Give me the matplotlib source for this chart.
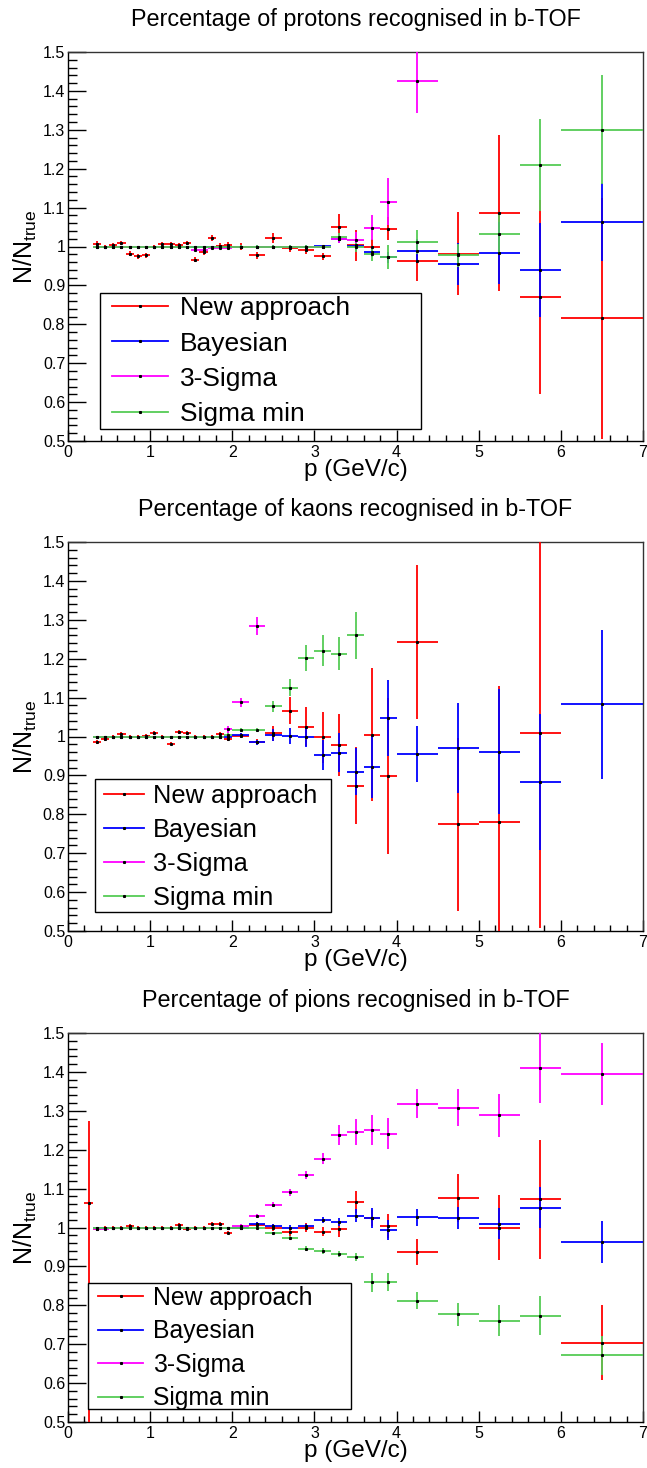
import numpy as np
import matplotlib
matplotlib.use("Agg")
import matplotlib.pyplot as plt
from matplotlib.lines import Line2D
from matplotlib.patches import Rectangle
from matplotlib.ticker import MultipleLocator, FuncFormatter

plt.rcParams['font.family'] = ['Liberation Sans', 'DejaVu Sans']
plt.rcParams['mathtext.fontset'] = 'custom'
plt.rcParams['mathtext.rm'] = 'Liberation Sans'

nan = np.nan

# momentum binning (GeV/c)
p_edges = [0.2, 0.3, 0.4, 0.5, 0.6, 0.7, 0.8, 0.9, 1.0, 1.1, 1.2, 1.3, 1.4, 1.5, 1.6, 1.7, 1.8, 1.9, 2.0,
           2.2, 2.4, 2.6, 2.8, 3.0, 3.2, 3.4, 3.6, 3.8, 4.0,
           4.5, 5.0, 5.5, 6.0, 7.0]

method_labels = ["New approach", "Bayesian", "3-Sigma", "Sigma min"]
method_colors = ["#ff0000", "#0000ff", "#ff00ff", "#55cc55"]

# ---------------- protons ----------------
proton_new = [nan, 1.007, 1.000, 1.004, 1.009, 0.982, 0.975, 0.977, 1.000, 1.006, 1.006, 1.003, 1.009, 0.966, 0.986, 1.022, 1.001, 1.004,
              1.000, 0.977, 1.022, 0.995, 0.990, 0.975, 1.051, 1.003, 0.998, 1.046,
              0.962, 0.982, 1.086, 0.870, 0.815]
proton_new_err = [nan, 0.006, 0.005, 0.006, 0.006, 0.006, 0.006, 0.006, 0.005, 0.006, 0.006, 0.006, 0.006, 0.007, 0.007, 0.007, 0.007, 0.007,
                  0.008, 0.009, 0.012, 0.010, 0.010, 0.009, 0.033, 0.040, 0.020, 0.030,
                  0.050, 0.107, 0.200, 0.250, 0.310]
proton_bayes = [nan, 1.000, 1.000, 1.000, 1.000, 1.000, 1.000, 1.000, 1.000, 1.000, 1.000, 1.000, 1.000, 1.000, 1.000, 1.000, 1.000, 1.000,
                1.000, 1.000, 1.000, 1.000, 1.000, 1.001, 1.018, 1.002, 0.986, 0.972,
                0.988, 0.955, 0.984, 0.940, 1.062]
proton_bayes_err = [nan, 0.002, 0.002, 0.002, 0.002, 0.002, 0.002, 0.002, 0.002, 0.002, 0.002, 0.002, 0.002, 0.002, 0.002, 0.002, 0.002, 0.002,
                    0.003, 0.003, 0.003, 0.003, 0.004, 0.004, 0.010, 0.012, 0.012, 0.015,
                    0.030, 0.054, 0.080, 0.120, 0.100]
proton_3sig = [nan, 1.000, 0.998, 0.998, 0.998, 0.998, 0.998, 0.998, 0.998, 0.998, 0.998, 0.998, 0.998, 0.992, 0.991, 0.995, 0.995, 0.996,
               1.000, 0.998, 0.998, 0.998, 0.998, 1.000, 1.020, 1.017, 1.048, 1.115,
               1.426, nan, nan, nan, nan]
proton_3sig_err = [nan, 0.002, 0.002, 0.002, 0.002, 0.002, 0.002, 0.002, 0.002, 0.002, 0.002, 0.002, 0.002, 0.002, 0.002, 0.002, 0.002, 0.002,
                   0.003, 0.003, 0.003, 0.003, 0.003, 0.003, 0.010, 0.020, 0.032, 0.060,
                   0.083, nan, nan, nan, nan]
proton_smin = [nan, 1.000, 1.000, 1.000, 1.000, 1.000, 1.000, 1.000, 1.000, 1.000, 1.000, 1.000, 1.000, 1.000, 1.000, 1.000, 1.000, 1.000,
               1.000, 1.000, 1.000, 1.000, 1.000, 1.000, 1.024, 0.998, 0.982, 0.973,
               1.012, 0.977, 1.033, 1.210, 1.300]
proton_smin_err = [nan, 0.002, 0.002, 0.002, 0.002, 0.002, 0.002, 0.002, 0.002, 0.002, 0.002, 0.002, 0.002, 0.002, 0.002, 0.002, 0.002, 0.002,
                   0.003, 0.003, 0.003, 0.003, 0.003, 0.003, 0.010, 0.012, 0.020, 0.030,
                   0.030, 0.030, 0.050, 0.118, 0.140]

# ---------------- kaons ----------------
kaon_new = [nan, 0.985, 0.994, 1.000, 1.006, 1.000, 1.000, 1.001, 1.009, 1.000, 0.982, 1.012, 1.009, 1.000, 1.000, 1.000, 1.006, 0.993,
            1.002, 0.987, 1.008, 1.066, 1.025, 0.998, 0.979, 0.874, 1.005, 0.898,
            1.244, 0.774, 0.781, 1.008, nan]
kaon_new_err = [nan, 0.005, 0.005, 0.005, 0.005, 0.005, 0.005, 0.005, 0.005, 0.005, 0.005, 0.005, 0.005, 0.005, 0.005, 0.005, 0.005, 0.005,
                0.006, 0.007, 0.020, 0.035, 0.050, 0.065, 0.080, 0.100, 0.170, 0.200,
                0.198, 0.222, 0.350, 0.500, nan]
kaon_bayes = [nan, 1.000, 1.000, 1.000, 1.000, 1.000, 1.000, 1.000, 1.000, 1.000, 1.000, 1.000, 1.000, 1.000, 1.000, 1.000, 1.000, 1.000,
              1.004, 0.985, 1.004, 1.002, 1.000, 0.953, 0.958, 0.910, 0.922, 1.048,
              0.955, 0.971, 0.961, 0.884, 1.083]
kaon_bayes_err = [nan, 0.002, 0.002, 0.002, 0.002, 0.002, 0.002, 0.002, 0.002, 0.002, 0.002, 0.002, 0.002, 0.002, 0.002, 0.002, 0.002, 0.002,
                  0.004, 0.007, 0.015, 0.020, 0.027, 0.038, 0.050, 0.060, 0.080, 0.097,
                  0.073, 0.115, 0.160, 0.175, 0.192]
kaon_3sig = [nan, 0.998, 0.998, 0.998, 0.998, 0.998, 0.998, 0.998, 0.998, 0.998, 0.998, 0.998, 0.998, 0.998, 0.998, 0.998, 0.998, 1.019,
             1.088, 1.284, nan, nan, nan, nan, nan, nan, nan, nan,
             nan, nan, nan, nan, nan]
kaon_3sig_err = [nan, 0.002, 0.002, 0.002, 0.002, 0.002, 0.002, 0.002, 0.002, 0.002, 0.002, 0.002, 0.002, 0.002, 0.002, 0.002, 0.002, 0.009,
                 0.012, 0.024, nan, nan, nan, nan, nan, nan, nan, nan,
                 nan, nan, nan, nan, nan]
kaon_smin = [nan, 1.000, 1.000, 1.000, 1.000, 1.000, 1.000, 1.000, 1.000, 1.000, 1.000, 1.000, 1.000, 1.000, 1.000, 1.000, 1.000, 1.004,
             1.017, 1.017, 1.078, 1.125, 1.202, 1.221, 1.213, 1.260, nan, nan,
             nan, nan, nan, nan, nan]
kaon_smin_err = [nan, 0.002, 0.002, 0.002, 0.002, 0.002, 0.002, 0.002, 0.002, 0.002, 0.002, 0.002, 0.002, 0.002, 0.002, 0.002, 0.002, 0.004,
                 0.005, 0.006, 0.014, 0.022, 0.034, 0.040, 0.043, 0.060, nan, nan,
                 nan, nan, nan, nan, nan]

# ---------------- pions ----------------
pion_new = [1.062, 0.996, 1.000, 1.000, 1.000, 1.004, 1.000, 1.000, 1.000, 1.000, 1.000, 1.007, 0.997, 1.000, 1.000, 1.010, 1.010, 0.987,
            1.000, 1.007, 1.000, 0.989, 1.000, 0.989, 0.996, 1.066, 1.024, 1.004,
            0.937, 1.075, 1.000, 1.072, 0.704]
pion_new_err_up = [0.212, 0.004, 0.004, 0.004, 0.004, 0.004, 0.004, 0.004, 0.004, 0.004, 0.004, 0.004, 0.004, 0.004, 0.004, 0.004, 0.004, 0.004,
                   0.005, 0.006, 0.008, 0.010, 0.012, 0.012, 0.020, 0.028, 0.020, 0.030,
                   0.033, 0.062, 0.083, 0.154, 0.096]
pion_new_err_down = [0.600, 0.004, 0.004, 0.004, 0.004, 0.004, 0.004, 0.004, 0.004, 0.004, 0.004, 0.004, 0.004, 0.004, 0.004, 0.004, 0.004, 0.004,
                     0.005, 0.006, 0.008, 0.010, 0.012, 0.012, 0.020, 0.028, 0.020, 0.030,
                     0.033, 0.062, 0.083, 0.154, 0.096]
pion_bayes = [nan, 1.000, 1.000, 1.000, 1.000, 1.000, 1.000, 1.000, 1.000, 1.000, 1.000, 1.000, 1.000, 1.000, 1.000, 1.000, 1.000, 1.000,
              1.000, 1.009, 1.004, 1.000, 1.003, 1.019, 1.014, 1.030, 1.025, 0.993,
              1.026, 1.024, 1.010, 1.051, 0.963]
pion_bayes_err = [nan, 0.002, 0.002, 0.002, 0.002, 0.002, 0.002, 0.002, 0.002, 0.002, 0.002, 0.002, 0.002, 0.002, 0.002, 0.002, 0.002, 0.002,
                  0.003, 0.004, 0.005, 0.006, 0.007, 0.008, 0.010, 0.017, 0.025, 0.025,
                  0.021, 0.029, 0.040, 0.052, 0.054]
pion_3sig = [nan, 0.996, 0.996, 0.998, 0.998, 0.998, 0.998, 0.998, 0.998, 0.998, 0.998, 0.998, 0.998, 0.998, 0.998, 0.998, 0.998, 0.998,
             1.005, 1.030, 1.059, 1.090, 1.135, 1.177, 1.238, 1.246, 1.250, 1.241,
             1.318, 1.308, 1.288, 1.410, 1.395]
pion_3sig_err = [nan, 0.002, 0.002, 0.002, 0.002, 0.002, 0.002, 0.002, 0.002, 0.002, 0.002, 0.002, 0.002, 0.002, 0.002, 0.002, 0.002, 0.002,
                 0.003, 0.005, 0.006, 0.008, 0.010, 0.015, 0.026, 0.034, 0.038, 0.040,
                 0.037, 0.047, 0.055, 0.090, 0.080]
pion_smin = [nan, 1.000, 1.000, 1.000, 1.000, 1.000, 1.000, 1.000, 1.000, 1.000, 1.000, 1.000, 1.000, 1.000, 1.000, 1.000, 1.000, 1.000,
             1.000, 1.000, 0.985, 0.972, 0.946, 0.940, 0.931, 0.925, 0.859, 0.860,
             0.812, 0.777, 0.760, 0.773, 0.672]
pion_smin_err = [nan, 0.002, 0.002, 0.002, 0.002, 0.002, 0.002, 0.002, 0.002, 0.002, 0.002, 0.002, 0.002, 0.002, 0.002, 0.002, 0.002, 0.002,
                 0.003, 0.003, 0.004, 0.005, 0.006, 0.007, 0.008, 0.010, 0.025, 0.023,
                 0.022, 0.030, 0.040, 0.050, 0.050]

panels = [
    dict(title="Percentage of protons recognised in b-TOF",
         series=[(proton_new, proton_new_err, proton_new_err), (proton_bayes, proton_bayes_err, proton_bayes_err),
                 (proton_3sig, proton_3sig_err, proton_3sig_err), (proton_smin, proton_smin_err, proton_smin_err)],
         top_px=52, leg_box=(100, 293, 421, 429), line_px=(112, 168), text_x=180,
         text_top=296.5, leg_fs=19.0, leg_sp=0.42),
    dict(title="Percentage of kaons recognised in b-TOF",
         series=[(kaon_new, kaon_new_err, kaon_new_err), (kaon_bayes, kaon_bayes_err, kaon_bayes_err),
                 (kaon_3sig, kaon_3sig_err, kaon_3sig_err), (kaon_smin, kaon_smin_err, kaon_smin_err)],
         top_px=542, leg_box=(95, 779, 331, 912), line_px=(104, 144), text_x=153,
         text_top=783.5, leg_fs=18.3, leg_sp=0.40),
    dict(title="Percentage of pions recognised in b-TOF",
         series=[(pion_new, pion_new_err_down, pion_new_err_up), (pion_bayes, pion_bayes_err, pion_bayes_err),
                 (pion_3sig, pion_3sig_err, pion_3sig_err), (pion_smin, pion_smin_err, pion_smin_err)],
         top_px=1033, leg_box=(88, 1283, 351, 1409), line_px=(98, 143), text_x=153,
         text_top=1286, leg_fs=17.8, leg_sp=0.38),
]

W, H = 647, 1468
fig = plt.figure(figsize=(W / 100, H / 100), dpi=100)
fig.patch.set_facecolor("white")

AX_L, AX_R, AX_H = 68, 643, 389
AX_W = AX_R - AX_L

edges = np.asarray(p_edges)
centers = 0.5 * (edges[1:] + edges[:-1])
half_w = 0.5 * (edges[1:] - edges[:-1])

for pan in panels:
    top = pan["top_px"]
    ax = fig.add_axes([AX_L / W, 1 - (top + AX_H) / H, AX_W / W, AX_H / H])
    ax.set_xlim(0, 7)
    ax.set_ylim(0.5, 1.5)

    for (vals, err_lo, err_hi), col in zip(pan["series"], method_colors):
        yerr = np.vstack([np.asarray(err_lo, float), np.asarray(err_hi, float)])
        ax.errorbar(centers, np.asarray(vals, float), xerr=half_w, yerr=yerr,
                    fmt='s', ms=1.2, mfc='black', mec='black', ecolor=col,
                    elinewidth=1.3, capsize=0, zorder=3)

    ax.xaxis.set_major_locator(MultipleLocator(1))
    ax.xaxis.set_minor_locator(MultipleLocator(0.2))
    ax.yaxis.set_major_locator(MultipleLocator(0.1))
    ax.yaxis.set_minor_locator(MultipleLocator(0.02))
    ax.yaxis.set_major_formatter(FuncFormatter(lambda v, pos: f"{v:g}"))
    ax.xaxis.set_major_formatter(FuncFormatter(lambda v, pos: f"{v:g}"))
    ax.tick_params(axis='both', which='both', direction='in', top=False, right=False,
                   width=1.0, color='black', labelsize=11.5)
    ax.tick_params(axis='y', which='major', length=12.7, pad=2)
    ax.tick_params(axis='y', which='minor', length=6.4)
    ax.tick_params(axis='x', which='major', length=7.7, pad=3)
    ax.tick_params(axis='x', which='minor', length=4.0)
    for side in ("left", "bottom"):
        ax.spines[side].set_color("black")
        ax.spines[side].set_linewidth(1.0)
    for side in ("top", "right"):
        ax.spines[side].set_color("#333333")
        ax.spines[side].set_linewidth(1.0)

    # titles and axis titles
    xc = 0.5 * (AX_L + AX_R) / W
    fig.text(xc, 1 - (top - 26) / H, pan["title"], ha='center', va='baseline', fontsize=16.8)
    fig.text(xc, 1 - (top + AX_H + 29) / H, "p (GeV/c)", ha='center', va='center', fontsize=17.5)
    fig.text(25 / W, 1 - (top + AX_H / 2) / H, r"N/N$_{\mathregular{true}}$",
             rotation=90, ha='center', va='center', fontsize=18)

    # legend: opaque box plus entries
    x0, y0, x1, y1 = pan["leg_box"]
    box = Rectangle(((x0 - AX_L) / AX_W, (top + AX_H - y1) / AX_H),
                    (x1 - x0) / AX_W, (y1 - y0) / AX_H, transform=ax.transAxes,
                    facecolor='white', edgecolor='black', lw=1.0, zorder=4, clip_on=False)
    ax.add_patch(box)

    fs_px = pan["leg_fs"] * 100 / 72
    lx0, lx1 = pan["line_px"]
    handles = [Line2D([], [], color=c, lw=1.3, marker='s', ms=1.2, mfc='black', mec='black')
               for c in method_colors]
    leg = ax.legend(handles, method_labels, loc='upper left',
                    bbox_to_anchor=((lx0 - AX_L) / AX_W, (top + AX_H - pan["text_top"]) / AX_H),
                    bbox_transform=ax.transAxes, fontsize=pan["leg_fs"], frameon=False,
                    borderpad=0, borderaxespad=0, labelspacing=pan["leg_sp"],
                    handlelength=(lx1 - lx0) / fs_px,
                    handletextpad=(pan["text_x"] - lx1) / fs_px, numpoints=1)
    leg.set_zorder(5)

fig.savefig("out.png", dpi=100, facecolor="white")
